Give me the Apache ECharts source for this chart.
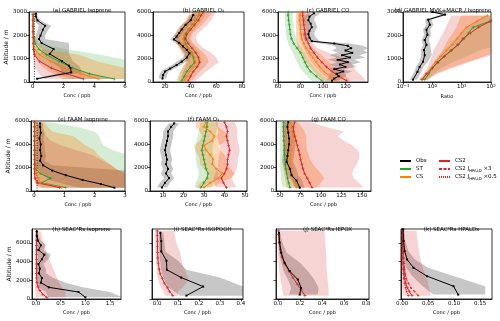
<!DOCTYPE html>
<html>
<head>
<meta charset="utf-8">
<script src="https://cdn.jsdelivr.net/npm/echarts@6/dist/echarts.min.js"></script>
<style>
html, body { margin: 0; padding: 0; background: #fff; }
#main { width: 500px; height: 321px; }
</style>
</head>
<body>
<div id="main"></div>
<script>
// ---- (a) GABRIEL isoprene
const aAltObs = [140, 410, 600, 700, 890, 1200, 1410, 1670, 1840, 1990, 2240, 2410, 2640, 2810, 2930];
const aObs = [0.28, 2.5, 2.45, 2.35, 1.9, 1.1, 1.35, 0.57, 0.4, 0.5, 0.65, 0.8, 0.3, 0.2, 0.2];
const aObsLo = [0.1, 1.9, 1.8, 1.6, 1.2, 0.5, 0.6, 0.15, 0.1, 0.2, 0.3, 0.4, 0.1, 0.1, 0.1];
const aObsHi = [0.5, 3.2, 3.1, 3.0, 2.6, 2.35, 2.35, 2.35, 0.8, 0.8, 1.0, 1.2, 0.5, 0.3, 0.3];
const aAlt = [130, 350, 600, 880, 1170, 1400, 1650, 1900, 2150, 2400, 2650, 2900];
const aST = [5.3, 3.7, 2.6, 1.7, 0.9, 0.4, 0.15, 0.06, 0.04, 0.03, 0.03, 0.03];
const aSTLo = [2.5, 1.6, 1.0, 0.5, 0.2, 0.05, 0.01, 0, 0, 0, 0, 0];
const aSTHi = [7, 7, 7, 6.5, 4.4, 2.2, 0.4, 0.15, 0.1, 0.08, 0.08, 0.08];
const aCS = [4.3, 3.1, 2.0, 1.15, 0.45, 0.12, 0.05, 0.03, 0.02, 0.02, 0.02, 0.02];
const aCSLo = [2, 1.3, 0.7, 0.3, 0.08, 0.02, 0, 0, 0, 0, 0, 0];
const aCSHi = [6.5, 6.5, 6, 4.2, 3, 0.8, 0.2, 0.1, 0.06, 0.05, 0.05, 0.05];
const aCS2 = [3.3, 2.2, 1.2, 0.45, 0.1, 0.04, 0.02, 0.02, 0.01, 0.01, 0.01, 0.01];
const aCS2Lo = [0.8, 0.4, 0.15, 0.04, 0.01, 0, 0, 0, 0, 0, 0, 0];
const aCS2Hi = [5, 3.8, 2.5, 1.3, 0.4, 0.12, 0.06, 0.05, 0.03, 0.03, 0.03, 0.03];

// ---- (b) GABRIEL O3
const bAltObs = [300, 600, 900, 1150, 1450, 1750, 2100, 2450, 2750, 3050, 3350, 3650, 3900, 4200, 4500, 4900, 5300, 5750];
const bObs = [18, 18.5, 20, 24, 29, 33, 37, 39, 37, 34, 31, 27, 29, 31, 33, 36, 40, 42];
const bObsLo = [15, 15.5, 17, 20.5, 25.5, 29.5, 34, 36, 34, 31, 28, 24, 26, 28, 30, 33, 37, 39];
const bObsHi = [21, 21.5, 23, 27.5, 32.5, 36.5, 40, 42, 40, 37, 34, 30, 32, 34, 36, 39, 43, 45];
const bAlt = [100, 500, 900, 1300, 1700, 2100, 2500, 2900, 3300, 3700, 4100, 4500, 4900, 5300, 5700, 6000];
const bST = [33, 35, 37, 40, 43, 42, 41, 38, 36, 35, 36, 38, 41, 44, 46, 47];
const bSTLo = [29, 30, 32, 34, 37, 36, 35, 32, 30, 29, 30, 33, 36, 39, 41, 42];
const bSTHi = [38, 40, 43, 46, 49, 48, 47, 44, 41, 39, 40, 43, 46, 49, 51, 52];
const bCS = [35, 37, 39, 42, 44, 43, 41, 38, 35, 34, 35, 38, 41, 44, 46, 48];
const bCSLo = [30, 31, 32, 34, 36, 35, 33, 31, 29, 27, 28, 30, 33, 36, 38, 40];
const bCSHi = [41, 44, 47, 51, 54, 53, 50, 46, 42, 40, 41, 45, 49, 52, 55, 57];
const bCS2 = [38, 40, 42, 45, 47, 46, 44, 41, 38, 36, 37, 40, 43, 46, 48, 50];
const bCS2Lo = [32, 33, 34, 36, 37, 36, 34, 32, 30, 28, 29, 32, 35, 38, 40, 42];
const bCS2Hi = [44, 48, 52, 57, 62, 60, 56, 50, 46, 44, 45, 49, 53, 56, 58, 60];

// ---- (c) GABRIEL CO
const cAltObs = [100, 300, 500, 700, 900, 1100, 1300, 1500, 1700, 1900, 2100, 2300, 2500, 2700, 2900, 3100, 3300, 3500, 3800, 4100, 4400, 4700, 5000, 5300, 5600, 5900];
const cObs = [108, 110, 114, 112, 118, 110, 120, 115, 122, 113, 124, 117, 126, 120, 125, 122, 110, 90, 88, 87, 88, 90, 89, 87, 88, 92];
const cObsLo = [103, 104, 107, 105, 110, 103, 111, 106, 112, 104, 112, 106, 113, 108, 112, 110, 98, 84, 83, 82, 83, 85, 84, 82, 83, 86];
const cObsHi = [114, 116, 121, 120, 126, 118, 130, 126, 134, 128, 138, 132, 140, 136, 140, 136, 124, 97, 94, 92, 93, 95, 94, 92, 93, 98];
const cAlt = [100, 500, 900, 1300, 1700, 2100, 2500, 2900, 3300, 3700, 4100, 4500, 4900, 5300, 5700, 6000];
const cST = [99, 94, 89, 86, 84, 82, 80, 77, 74, 72, 71, 70.5, 70, 69.5, 69, 69];
const cSTLo = [90, 86, 82, 79, 77, 75, 73, 71, 69, 68, 67, 67, 66, 66, 66, 66];
const cSTHi = [106, 101, 96, 92, 89, 86, 84, 81, 78, 76, 75, 74, 74, 73, 73, 73];
const cCS = [111, 106, 101, 97, 94, 91, 88, 85, 83, 81, 80.5, 80, 80, 79.5, 79.5, 79.5];
const cCSLo = [100, 96, 92, 88, 85, 82, 80, 78, 77, 76, 76, 76, 76, 76, 76, 76];
const cCSHi = [125, 120, 115, 110, 106, 101, 96, 91, 88, 86, 85, 85, 85, 85, 85, 85];
const cCS2 = [121, 114, 108, 103, 99, 95, 92, 89, 87, 85, 84, 83.5, 83, 82.5, 82, 82];
const cCS2Lo = [108, 102, 97, 93, 90, 87, 85, 83, 81, 80, 79, 79, 78, 78, 78, 78];
const cCS2Hi = [138, 135, 130, 127, 125, 118, 105, 95, 91, 89, 88, 88, 88, 88, 88, 88];

// ---- (d) GABRIEL MVK+MACR / isoprene ratio
const dAltObs = [100, 430, 650, 870, 1150, 1370, 1590, 1800, 2020, 2240, 2450, 2670, 2890, 3000];
const dObs = [0.22, 0.31, 0.37, 0.48, 0.55, 0.52, 0.63, 0.55, 0.68, 0.63, 0.82, 0.72, 2.7, 1.0];
const dObsLo = [0.17, 0.24, 0.28, 0.36, 0.42, 0.4, 0.48, 0.43, 0.52, 0.48, 0.62, 0.55, 2.0, 0.75];
const dObsHi = [0.3, 0.42, 0.5, 0.7, 0.95, 0.9, 0.85, 0.75, 0.9, 0.85, 1.1, 0.95, 3.5, 1.3];
const dAlt = [100, 350, 600, 850, 1100, 1350, 1600, 1850, 2100, 2350, 2600, 2850];
const dST = [0.55, 0.75, 1.0, 1.6, 2.5, 4.3, 7.5, 12, 17, 25, 90, 150];
const dSTLo = [0.45, 0.6, 0.8, 1.1, 1.5, 2.4, 4, 6, 9, 13, 30, 60];
const dSTHi = [0.7, 1.1, 2.0, 5, 15, 40, 200, 200, 200, 200, 200, 200];
const dCS = [0.42, 0.6, 0.9, 1.3, 1.9, 3.0, 4.8, 7.0, 10, 15, 33, 75];
const dCSLo = [0.4, 0.7, 1.0, 1.4, 1.8, 2.2, 2.8, 3.6, 5, 6.5, 8, 9.5];
const dCSHi = [0.65, 1.3, 4, 15, 60, 200, 200, 200, 200, 200, 200, 200];
const dCS2 = [0.45, 0.65, 1.0, 1.5, 2.6, 4.5, 7.5, 11, 20, 38, 95, 150];
const dCS2Lo = [0.35, 0.5, 0.68, 0.8, 0.95, 1.1, 1.4, 1.8, 2.3, 2.9, 3.6, 4.5];
const dCS2Hi = [0.7, 1.5, 5, 18, 80, 200, 200, 200, 200, 200, 200, 200];

// ---- (e) FAAM isoprene
const eAltObs = [280, 600, 950, 1350, 1750, 2200, 2600, 3000, 3500, 4000, 4500, 5000, 5500, 5800];
const eObs = [2.65, 2.2, 1.6, 1.05, 0.6, 0.3, 0.2, 0.24, 0.2, 0.22, 0.18, 0.22, 0.2, 0.2];
const eObsLo = [1.5, 1.0, 0.5, 0.3, 0.15, 0.1, 0.1, 0.1, 0.1, 0.1, 0.1, 0.1, 0.1, 0.1];
const eObsHi = [3.5, 3.3, 3.1, 3.0, 3.0, 0.6, 0.35, 0.4, 0.35, 0.35, 0.3, 0.35, 0.3, 0.3];
const eAlt = [280, 700, 1100, 1500, 1900, 2300, 2700, 3100, 3500, 3900, 4300, 4700, 5100, 5500, 5900];
const eST = [1.05, 0.25, 0.55, 0.2, 0.07, 0.04, 0.03, 0.03, 0.03, 0.02, 0.02, 0.02, 0.02, 0.02, 0.02];
const eSTLo = [0.3, 0.05, 0.1, 0.02, 0.01, 0, 0, 0, 0, 0, 0, 0, 0, 0, 0];
const eSTHi = [4, 4, 4, 4, 4, 3.8, 3.4, 3.1, 2.6, 2.3, 2.2, 2.15, 2.0, 1.4, 0.5];
const eCS = [0.92, 0.2, 0.14, 0.07, 0.04, 0.03, 0.02, 0.02, 0.02, 0.02, 0.02, 0.02, 0.02, 0.02, 0.02];
const eCSLo = [0.2, 0.03, 0.02, 0.01, 0, 0, 0, 0, 0, 0, 0, 0, 0, 0, 0];
const eCSHi = [4, 4, 3.3, 3.0, 2.7, 2.5, 2.3, 2.1, 2.0, 1.7, 1.5, 1.3, 0.6, 0.45, 0.35];
const eCS2 = [0.85, 0.12, 0.03, 0.02, 0.01, 0.01, 0.01, 0.01, 0.01, 0.01, 0.01, 0.01, 0.01, 0.01, 0.01];
const eCS2Lo = [0.15, 0.02, 0, 0, 0, 0, 0, 0, 0, 0, 0, 0, 0, 0, 0];
const eCS2Hi = [4, 3.5, 3.2, 3.0, 2.7, 2.5, 2.2, 1.9, 1.4, 0.9, 0.55, 0.4, 0.3, 0.22, 0.2];

// ---- (f) FAAM O3
const fAltObs = [300, 700, 1100, 1500, 1900, 2300, 2700, 3100, 3500, 3900, 4300, 4700, 5100, 5500, 5800];
const fObs = [9.5, 11, 13, 11.5, 12.5, 11.5, 12, 11.5, 11, 11.5, 12, 12.5, 12.5, 14, 15.5];
const fObsLo = [7, 8.5, 10.5, 9, 10, 9, 9.5, 9, 8.5, 9, 9.5, 10, 10, 11.5, 13];
const fObsHi = [12, 13.5, 15.5, 14, 15, 14, 14.5, 14, 13.5, 14, 14.5, 15, 15, 16.5, 18];
const fAlt = [290, 700, 1100, 1500, 1900, 2300, 2700, 3100, 3500, 3900, 4300, 4700, 5100, 5500, 5900];
const fST = [28.5, 30, 31.5, 32, 31, 30.5, 30, 29.5, 29, 29.5, 30, 30.5, 31, 31.5, 31.5];
const fSTLo = [25.5, 26, 27, 27.5, 27, 26.5, 26, 26, 25.5, 26, 26.5, 27, 27.5, 28, 28];
const fSTHi = [33, 35, 36.5, 37, 36, 35.5, 35, 34.5, 34, 34.5, 35, 35.5, 36, 36.5, 36.5];
const fCS = [30, 33, 37, 39, 36, 34, 34.5, 33, 31, 30, 34, 35, 33, 30, 31];
const fCSLo = [26, 28, 31, 32, 30, 28, 28, 27, 26, 25, 28, 29, 28, 26, 26];
const fCSHi = [34, 38, 43, 45, 43, 41, 41, 40, 38, 37, 41, 42, 40, 37, 37];
const fCS2 = [41, 39.5, 38.5, 40, 41, 41.5, 41.5, 42, 42.5, 42, 41.5, 41, 41.5, 41, 40];
const fCS2Lo = [36, 35, 34.5, 35.5, 36.5, 37, 37, 37.5, 38, 37.5, 37, 36.5, 37, 36.5, 35.5];
const fCS2Hi = [46, 44.5, 43.5, 45, 46, 46.5, 46.5, 47, 47.5, 47, 46.5, 46, 46.5, 46, 45];

// ---- (g) FAAM CO
const gAltObs = [280, 900, 1350, 1900, 2500, 3000, 3500, 4000, 4500, 5000, 5500, 5900];
const gObs = [74, 70, 64, 62, 58, 59, 60, 61, 61, 60, 59, 60];
const gObsLo = [68, 64, 58, 55, 52, 53, 54, 55, 55, 54, 53, 54];
const gObsHi = [80, 77, 72, 70, 66, 67, 68, 69, 69, 68, 67, 67];
const gAlt = [290, 700, 1100, 1500, 1900, 2300, 2700, 3100, 3500, 3900, 4300, 4700, 5100, 5500, 5900];
const gST = [62, 60.5, 59, 58, 57, 56.5, 56, 55.5, 55, 55, 54.5, 54.5, 54, 54, 54];
const gSTLo = [53, 52, 51, 51, 50, 50, 50, 50, 50, 50, 50, 50, 50, 50, 50];
const gSTHi = [72, 70, 68, 66, 64, 63, 62, 61, 60, 60, 59, 59, 58, 58, 58];
const gCS = [70.5, 68, 66, 65, 64, 63, 63, 63, 63.5, 64, 65, 66, 65, 64, 63];
const gCSLo = [58, 57, 56, 55, 54, 54, 54, 54, 54, 54, 55, 55, 55, 55, 55];
const gCSHi = [95, 100, 104, 100, 95, 90, 87, 85, 83, 82, 82, 82, 80, 76, 72];
const gCS2 = [89, 86, 83, 80, 78, 76.5, 75, 74, 72.5, 71, 69.5, 68, 66.5, 66, 68];
const gCS2Lo = [70, 67, 64, 62, 60, 59, 58, 57, 56, 55, 54, 53, 53, 53, 55];
const gCS2Hi = [152, 146, 140, 138, 140, 144, 146, 147, 145, 138, 128, 120, 128, 105, 88];

// ---- (h) SEAC4RS isoprene
const hAltObs = [180, 750, 1250, 1750, 2250, 2750, 3250, 3750, 4250, 4750, 5250, 5750, 6250, 6750, 7250];
const hObs = [1.0, 0.86, 0.26, 0.1, 0.12, 0.06, 0.08, 0.05, 0.12, 0.17, 0.05, 0.1, 0.04, 0.02, 0.02];
const hObsLo = [0.25, 0.2, 0.05, 0.03, 0.03, 0.02, 0.02, 0.02, 0.03, 0.04, 0.02, 0.02, 0.01, 0.01, 0.01];
const hObsHi = [1.75, 1.5, 0.95, 0.6, 0.35, 0.2, 0.2, 0.15, 0.25, 0.3, 0.15, 0.2, 0.1, 0.05, 0.04];
const hAlt = [180, 500, 900, 1300, 1750, 2250, 2750, 3250, 3750, 4250, 4750, 5250, 5750, 6250, 6750, 7250];
const hCS2 = [0.22, 0.14, 0.08, 0.04, 0.02, 0.015, 0.01, 0.01, 0.01, 0.01, 0.01, 0.01, 0.01, 0.01, 0.01, 0.01];
const hCS2Lo = [0, -0.01, -0.02, -0.02, -0.02, -0.02, -0.02, -0.02, -0.02, -0.02, -0.02, -0.02, -0.02, -0.02, -0.02, -0.02];
const hCS2Hi = [0.6, 0.6, 0.58, 0.52, 0.47, 0.43, 0.39, 0.35, 0.31, 0.27, 0.23, 0.2, 0.17, 0.14, 0.12, 0.1];

// ---- (i) SEAC4RS ISOPOOH
const iAltObs = [360, 1330, 2300, 3130, 4100, 5100, 6200, 7100];
const iObs = [0.14, 0.22, 0.115, 0.047, 0.045, 0.02, 0.02, 0.016];
const iObsLo = [0.11, 0.05, 0.03, 0.02, 0.015, 0.01, 0.01, 0.008];
const iObsHi = [0.41, 0.41, 0.3, 0.14, 0.1, 0.04, 0.035, 0.03];
const iAlt = [360, 800, 1200, 1700, 2200, 2700, 3200, 3800, 4400, 5000, 5600, 6200, 6800, 7300];
const iCS2 = [0.075, 0.06, 0.05, 0.035, 0.025, 0.015, 0.01, 0.006, 0.004, 0.003, 0.002, 0.002, 0.001, 0.001];
const iCS2Lo = [0.04, 0.03, 0.02, 0.01, 0.005, 0, 0, -0.005, -0.005, -0.01, -0.01, -0.01, -0.01, -0.01];
const iCS2Hi = [0.1, 0.1, 0.12, 0.14, 0.15, 0.14, 0.13, 0.12, 0.115, 0.11, 0.1, 0.09, 0.085, 0.08];

// ---- (j) SEAC4RS IEPOX
const jAltObs = [470, 1190, 2090, 2990, 3880, 4960, 6040, 7090];
const jObs = [0.197, 0.21, 0.18, 0.106, 0.06, 0.03, 0.015, 0.009];
const jObsLo = [0.1, 0.12, 0.09, 0.05, 0.03, 0.01, 0.005, 0.003];
const jObsHi = [0.36, 0.37, 0.33, 0.27, 0.2, 0.08, 0.04, 0.02];
const jAlt = [360, 1000, 1600, 2300, 3000, 3700, 4500, 5300, 6100, 6900, 7300];
const jCS2 = [0.245, 0.21, 0.175, 0.135, 0.1, 0.065, 0.035, 0.02, 0.01, 0.005, 0.005];
const jCS2Lo = [0.05, 0.04, 0.03, 0.02, 0.01, 0.005, 0, 0, 0, 0, 0];
const jCS2Hi = [0.46, 0.46, 0.455, 0.45, 0.445, 0.44, 0.44, 0.435, 0.43, 0.425, 0.42];

// ---- (k) SEAC4RS HPALDs
const kAltObs = [470, 1370, 2450, 3350, 4240, 5140, 6220, 7480];
const kObs = [0.108, 0.099, 0.048, 0.022, 0.0096, 0.005, 0.003, 0.002];
const kObsLo = [0.06, 0.04, 0.02, 0.008, 0.003, 0.001, 0.001, 0.001];
const kObsHi = [0.16, 0.16, 0.1, 0.05, 0.025, 0.012, 0.006, 0.004];
const kAlt = [360, 800, 1200, 1700, 2200, 2700, 3200, 3800, 4400, 5000, 5600, 6200, 6800, 7300];
const kCS2 = [0.019, 0.014, 0.01, 0.007, 0.005, 0.004, 0.003, 0.002, 0.002, 0.0015, 0.001, 0.001, 0.001, 0.001];
const kCS2x3 = [0.031, 0.024, 0.017, 0.012, 0.008, 0.006, 0.005, 0.004, 0.003, 0.0025, 0.002, 0.002, 0.002, 0.002];
const kCS2x05 = [0.012, 0.009, 0.007, 0.005, 0.0035, 0.0028, 0.002, 0.0015, 0.0012, 0.001, 0.0008, 0.0008, 0.0008, 0.0008];
const kCS2Lo = [0.002, 0.001, 0, 0, 0, -0.001, -0.001, -0.001, -0.001, -0.001, -0.001, -0.001, -0.001, -0.001];
const kCS2Hi = [0.055, 0.054, 0.052, 0.05, 0.047, 0.044, 0.041, 0.038, 0.035, 0.033, 0.031, 0.03, 0.029, 0.028];

const FONT = 'DejaVu Sans';
const PLUS = 'path://M-1,-0.22H1V0.22H-1ZM-0.22,-1H0.22V1H-0.22Z';
const STY = {
  obs: { name: 'Obs', color: '#000000', band: 'rgba(0,0,0,0.22)', sym: 'rect', size: 2, type: 'solid' },
  st: { name: 'ST', color: '#2ca02c', band: 'rgba(44,160,44,0.2)', sym: PLUS, size: 3, type: 'solid' },
  cs: { name: 'CS', color: '#ff7f0e', band: 'rgba(255,127,14,0.3)', sym: PLUS, size: 3, type: 'solid' },
  cs2: { name: 'CS2', color: '#d62728', band: 'rgba(214,39,40,0.2)', sym: PLUS, size: 3, type: 'solid' },
  cs2x3: { name: 'CS2x3', color: '#d62728', sym: PLUS, size: 2.5, type: [3, 1.5] },
  cs2x05: { name: 'CS2x05', color: '#d62728', sym: PLUS, size: 2.5, type: [1, 1] }
};
const LEG = { Obs: 'Obs', ST: 'ST', CS: 'CS', CS2: 'CS2', CS2x3: 'CS2 J{s|HPALD} ×3', CS2x05: 'CS2 J{s|HPALD} ×0.5' };

const Y3 = [0, 1000, 2000, 3000], Y6 = [0, 2000, 4000, 6000];
const panels = [
  { title: '(a) GABRIEL Isoprene', box: [29, 12, 96, 70], ty: 2.5, x: [-0.25, 6], xt: [0, 2, 4, 6], dec: 0, y: [0, 3000], yt: Y3, yl: true, yn: true, xn: 'Conc / ppb', lod: 0.1,
    g: [['obs', aAltObs, aObs, aObsLo, aObsHi], ['st', aAlt, aST, aSTLo, aSTHi], ['cs', aAlt, aCS, aCSLo, aCSHi], ['cs2', aAlt, aCS2, aCS2Lo, aCS2Hi]] },
  { title: '(b) GABRIEL O₃', box: [153, 12, 91, 70], ty: 2.5, x: [10.6, 81.6], xt: [20, 40, 60, 80], dec: 0, y: [0, 6000], yt: Y6, yl: true, xn: 'Conc / ppb',
    g: [['obs', bAltObs, bObs, bObsLo, bObsHi], ['st', bAlt, bST, bSTLo, bSTHi], ['cs', bAlt, bCS, bCSLo, bCSHi], ['cs2', bAlt, bCS2, bCS2Lo, bCS2Hi]] },
  { title: '(c) GABRIEL CO', box: [278, 12, 90, 70], ty: 2.5, x: [60, 140], xt: [60, 80, 100, 120], dec: 0, y: [0, 6000], yt: Y6, yl: true, xn: 'Conc / ppb',
    g: [['obs', cAltObs, cObs, cObsLo, cObsHi], ['st', cAlt, cST, cSTLo, cSTHi], ['cs', cAlt, cCS, cCSLo, cCSHi], ['cs2', cAlt, cCS2, cCS2Lo, cCS2Hi]] },
  { title: '(d) GABRIEL MVK+MACR / Isoprene', box: [403, 12, 88, 70], ty: 2.5, tx: 438, log: true, x: [0.1, 100], y: [0, 3000], yt: Y3, yl: true, xn: 'Ratio',
    g: [['obs', dAltObs, dObs, dObsLo, dObsHi], ['st', dAlt, dST, dSTLo, dSTHi], ['cs', dAlt, dCS, dCSLo, dCSHi], ['cs2', dAlt, dCS2, dCS2Lo, dCS2Hi]] },
  { title: '(e) FAAM Isoprene', box: [31, 121, 94, 70], ty: 111.5, x: [-0.1, 3], xt: [0, 1, 2, 3], dec: 0, y: [0, 6000], yt: Y6, yl: true, yn: true, xn: 'Conc / ppb', lod: 0.1,
    g: [['obs', eAltObs, eObs, eObsLo, eObsHi], ['st', eAlt, eST, eSTLo, eSTHi], ['cs', eAlt, eCS, eCSLo, eCSHi], ['cs2', eAlt, eCS2, eCS2Lo, eCS2Hi]] },
  { title: '(f) FAAM O₃', box: [150, 121, 97, 70], ty: 111.5, x: [3.7, 51], xt: [10, 20, 30, 40, 50], dec: 0, y: [0, 6000], yt: Y6, yl: true, xn: 'Conc / ppb',
    g: [['obs', fAltObs, fObs, fObsLo, fObsHi], ['st', fAlt, fST, fSTLo, fSTHi], ['cs', fAlt, fCS, fCSLo, fCSHi], ['cs2', fAlt, fCS2, fCS2Lo, fCS2Hi]] },
  { title: '(g) FAAM CO', box: [276, 121, 95, 70], ty: 111.5, x: [45, 161], xt: [50, 75, 100, 125, 150], dec: 0, y: [0, 6000], yt: Y6, yl: true, xn: 'Conc / ppb',
    g: [['obs', gAltObs, gObs, gObsLo, gObsHi], ['st', gAlt, gST, gSTLo, gSTHi], ['cs', gAlt, gCS, gCSLo, gCSHi], ['cs2', gAlt, gCS2, gCS2Lo, gCS2Hi]] },
  { title: '(h) SEAC⁴Rs Isoprene', box: [32, 229, 89, 70], ty: 221.5, x: [-0.08, 1.72], xt: [0, 0.5, 1, 1.5], dec: 1, y: [0, 7500], yt: Y6, yl: true, yn: true, xn: 'Conc / ppb',
    g: [['obs', hAltObs, hObs, hObsLo, hObsHi], ['cs2', hAlt, hCS2, hCS2Lo, hCS2Hi]] },
  { title: '(i) SEAC⁴Rs ISOPOOH', box: [152, 229, 91, 70], ty: 221.5, x: [-0.024, 0.41], xt: [0, 0.1, 0.2, 0.3, 0.4], dec: 1, y: [0, 7500], yt: Y6, yl: false, xn: 'Conc / ppb',
    g: [['obs', iAltObs, iObs, iObsLo, iObsHi], ['cs2', iAlt, iCS2, iCS2Lo, iCS2Hi]] },
  { title: '(j) SEAC⁴Rs IEPOX', box: [276, 229, 93, 70], ty: 221.5, x: [-0.018, 0.827], xt: [0, 0.2, 0.4, 0.6, 0.8], dec: 1, y: [0, 7500], yt: Y6, yl: false, xn: 'Conc / ppb',
    g: [['obs', jAltObs, jObs, jObsLo, jObsHi], ['cs2', jAlt, jCS2, jCS2Lo, jCS2Hi]] },
  { title: '(k) SEAC⁴Rs HPALDs', box: [401, 229, 91, 70], ty: 221.5, x: [-0.002, 0.173], xt: [0, 0.05, 0.1, 0.15], dec: 2, y: [0, 7500], yt: Y6, yl: false, xn: 'Conc / ppb',
    g: [['obs', kAltObs, kObs, kObsLo, kObsHi], ['cs2', kAlt, kCS2, kCS2Lo, kCS2Hi], ['cs2x3', kAlt, kCS2x3], ['cs2x05', kAlt, kCS2x05]] }
];

const grids = [], xAxes = [], yAxes = [], series = [], titles = [];
const tick = { show: true, length: 2.5, lineStyle: { color: '#000', width: 0.7 } };

function bandSeries(i, key, alt, lo, hi) {
  return {
    type: 'custom', name: STY[key].name + ' range', xAxisIndex: i, yAxisIndex: i, z: 1, silent: true,
    data: [[lo[0], alt[0]]],
    renderItem: function (params, api) {
      const pts = [];
      for (let k = 0; k < alt.length; k++) pts.push(api.coord([lo[k], alt[k]]));
      for (let k = alt.length - 1; k >= 0; k--) pts.push(api.coord([hi[k], alt[k]]));
      const cs = params.coordSys;
      return {
        type: 'group',
        clipPath: { type: 'rect', shape: { x: cs.x, y: cs.y, width: cs.width, height: cs.height } },
        children: [{ type: 'polygon', shape: { points: pts }, style: { fill: STY[key].band } }]
      };
    }
  };
}

function lineSeries(i, key, alt, vals) {
  const s = STY[key];
  return {
    type: 'line', name: s.name, xAxisIndex: i, yAxisIndex: i, z: key === 'obs' ? 4 : 3, silent: true,
    data: alt.map((a, k) => [vals[k], a]),
    symbol: s.sym, symbolSize: s.size, showSymbol: true,
    lineStyle: { color: s.color, width: 1, type: s.type },
    itemStyle: { color: s.color }
  };
}

panels.forEach((p, i) => {
  const [l, t, w, h] = p.box;
  grids.push({ left: l, top: t, width: w, height: h, show: true, borderColor: '#000', borderWidth: 0.8, containLabel: false, outerBoundsMode: 'none' });
  titles.push({ text: p.title, left: p.tx || (l + w / 2), top: p.ty, textAlign: 'center',
    textStyle: { fontSize: 5.5, fontWeight: 'normal', color: '#000', fontFamily: FONT } });
  const lab = { fontSize: 5.5, color: '#000', margin: 2, fontFamily: FONT };
  if (p.log) {
    xAxes.push({ gridIndex: i, type: 'log', logBase: 10, min: p.x[0], max: p.x[1],
      axisLine: { show: true, onZero: false, lineStyle: { color: '#000', width: 0.8 } },
      axisTick: tick, splitLine: { show: false },
      axisLabel: Object.assign({}, lab, {
        formatter: v => '10{s|' + (Math.round(Math.log10(v)) < 0 ? '−' : '') + Math.abs(Math.round(Math.log10(v))) + '}',
        rich: { s: { fontSize: 4, lineHeight: 4, verticalAlign: 'top', fontFamily: FONT, color: '#000' } }
      }),
      name: p.xn, nameLocation: 'middle', nameGap: 12, nameTextStyle: { fontSize: 5, color: '#000', fontFamily: FONT } });
  } else {
    xAxes.push({ gridIndex: i, type: 'value', min: p.x[0], max: p.x[1],
      axisLine: { show: true, onZero: false, lineStyle: { color: '#000', width: 0.8 } },
      axisTick: Object.assign({ customValues: p.xt }, tick), splitLine: { show: false },
      axisLabel: Object.assign({ customValues: p.xt, formatter: v => v.toFixed(p.dec) }, lab),
      name: p.xn, nameLocation: 'middle', nameGap: 11, nameTextStyle: { fontSize: 5, color: '#000', fontFamily: FONT } });
  }
  yAxes.push({ gridIndex: i, type: 'value', min: p.y[0], max: p.y[1],
    axisLine: { show: true, onZero: false, lineStyle: { color: '#000', width: 0.8 } },
    axisTick: Object.assign({ customValues: p.yt }, tick), splitLine: { show: false },
    axisLabel: Object.assign({ customValues: p.yt, show: p.yl, formatter: v => String(Math.round(v)) }, lab),
    name: p.yn ? 'Altitude / m' : '', nameLocation: 'middle', nameGap: 17,
    nameTextStyle: { fontSize: 6, color: '#000', fontFamily: FONT } });

  p.g.forEach(gr => { if (gr[3]) series.push(bandSeries(i, gr[0], gr[1], gr[3], gr[4])); });
  if (p.lod) {
    series.push({ type: 'line', name: 'LOD', xAxisIndex: i, yAxisIndex: i, z: 2, silent: true, symbol: 'none',
      data: [[p.lod, p.y[0]], [p.lod, p.y[1]]], lineStyle: { color: '#000', width: 0.8, type: [1, 1.5] } });
  }
  ['st', 'cs', 'cs2', 'cs2x3', 'cs2x05', 'obs'].forEach(key => {
    p.g.forEach(gr => { if (gr[0] === key) series.push(lineSeries(i, key, gr[1], gr[2])); });
  });
});

const legText = { fontSize: 5.5, fontFamily: FONT, color: '#000', lineHeight: 8,
  rich: { s: { fontSize: 3.8, lineHeight: 4, verticalAlign: 'bottom', fontFamily: FONT, color: '#000' } } };
const legBase = { orient: 'vertical', itemWidth: 11, itemHeight: 2, itemGap: 0, selectedMode: false,
  itemStyle: { opacity: 0 }, textStyle: legText, formatter: n => LEG[n] };

const chart = echarts.init(document.getElementById('main'), null, { renderer: 'canvas' });
chart.setOption({
  animation: false,
  backgroundColor: '#fff',
  title: titles,
  legend: [
    Object.assign({ left: 394, top: 152, data: ['Obs', 'ST', 'CS'] }, legBase),
    Object.assign({ left: 433, top: 152, data: ['CS2', 'CS2x3', 'CS2x05'] }, legBase)
  ],
  grid: grids,
  xAxis: xAxes,
  yAxis: yAxes,
  series: series
});
</script>
</body>
</html>
